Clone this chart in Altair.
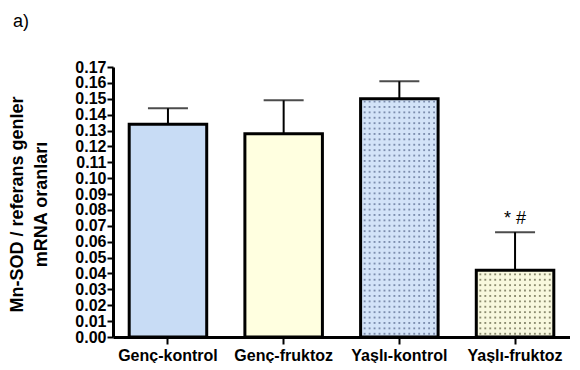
import altair as alt
import pandas as pd

groups = ["Genç-kontrol", "Genç-fruktoz", "Yaşlı-kontrol", "Yaşlı-fruktoz"]
means = [0.134, 0.128, 0.150, 0.042]
errors = [0.010, 0.021, 0.011, 0.024]
fills = ["#c8dcf5", "#ffffe0", "#d3e3f8", "#f8f8de"]
dotted = [False, False, True, True]
dot_colors = ["", "", "#7d8eae", "#8c8c70"]
notes = ["", "", "", "* #"]
y_ticks = [0.00, 0.01, 0.02, 0.03, 0.04, 0.05, 0.06, 0.07, 0.08,
           0.09, 0.10, 0.11, 0.12, 0.13, 0.14, 0.15, 0.16, 0.17]
y_title = ["Mn-SOD / referans genler", "mRNA oranları"]
panel_label = "a)"

PAD_IN = 0.33
PAD_OUT = 0.14

df = pd.DataFrame({
    "group": groups,
    "mean": means,
    "upper": [m + e for m, e in zip(means, errors)],
    "fill": fills,
    "note": notes,
})

# dotted texture for the patterned bars (derived from the bar values)
dot_step = 0.0034
n_cols = 15
half = (1 - PAD_IN) / 2 - 0.035
rows = []
for i, (g, m, d, c) in enumerate(zip(groups, means, dotted, dot_colors)):
    if not d:
        continue
    lvl = dot_step * 0.6
    while lvl < m - dot_step * 0.4:
        for k in range(n_cols):
            off = -half + 2 * half * k / (n_cols - 1)
            rows.append({"pos": i + off, "level": lvl, "dot": c})
        lvl += dot_step
dots_df = pd.DataFrame(rows)

FONT = "Liberation Sans"

x_axis = alt.Axis(title=None, labelAngle=0, labelFontSize=16, labelFontWeight="bold",
                  labelFont=FONT, labelColor="black", tickSize=7, tickWidth=2,
                  labelPadding=3, domainWidth=3, domainColor="black", tickColor="black")
y_axis = alt.Axis(title=y_title, values=y_ticks, format=".2f", labelFontSize=16,
                  labelFontWeight="bold", labelFont=FONT, labelColor="black",
                  labelOverlap=False, tickSize=6, tickWidth=2, labelPadding=1,
                  domainWidth=3, domainColor="black", tickColor="black",
                  titleFont=FONT, titleFontSize=18, titleFontWeight="bold",
                  titleColor="black", titleLineHeight=24, titleAngle=270,
                  titleAlign="center", titleBaseline="alphabetic",
                  titleX=-91, titleY=137)

x_scale = alt.Scale(paddingInner=PAD_IN, paddingOuter=PAD_OUT)
y_scale = alt.Scale(domain=[0, 0.17], nice=False, zero=True)
edge = PAD_OUT + (1 - PAD_IN) / 2


def X():
    return alt.X("group:N", sort=groups, scale=x_scale, axis=x_axis)


def Y(field):
    return alt.Y(field, scale=y_scale, axis=y_axis)


base = alt.Chart(df)

bars = base.mark_bar(stroke="black", strokeWidth=3).encode(
    x=X(), y=Y("mean:Q"), fill=alt.Fill("fill:N", scale=None, legend=None)
)

err = base.mark_rule(color="black", strokeWidth=2).encode(
    x=X(), y=Y("mean:Q"), y2="upper:Q"
)

caps = base.mark_tick(color="black", size=40, thickness=2).encode(
    x=X(), y=Y("upper:Q")
)

note = base.mark_text(fontSize=18, font=FONT, baseline="alphabetic", dy=-8,
                      color="black").encode(
    x=X(), y=Y("upper:Q"), text="note:N"
)

label = alt.Chart(pd.DataFrame({"t": [panel_label]})).mark_text(
    fontSize=18, font=FONT, baseline="alphabetic", align="left", color="black"
).encode(x=alt.value(-100), y=alt.value(-40), text="t:N")

dots = alt.Chart(dots_df).mark_square(size=3.5, opacity=1).encode(
    x=alt.X("pos:Q", scale=alt.Scale(domain=[-edge, len(groups) - 1 + edge],
                                     nice=False, zero=False), axis=None),
    y=Y("level:Q"),
    color=alt.Color("dot:N", scale=None, legend=None),
)

main = alt.layer(bars, err, caps, note, label)

chart = alt.layer(main, dots).resolve_scale(x="independent").properties(
    width=457,
    height=270,
    padding={"left": 0, "top": 5, "right": 0, "bottom": 0},
).configure_view(stroke=None).configure_axis(grid=False)

chart.save("out.html", embed_options={"renderer": "svg", "actions": False})
